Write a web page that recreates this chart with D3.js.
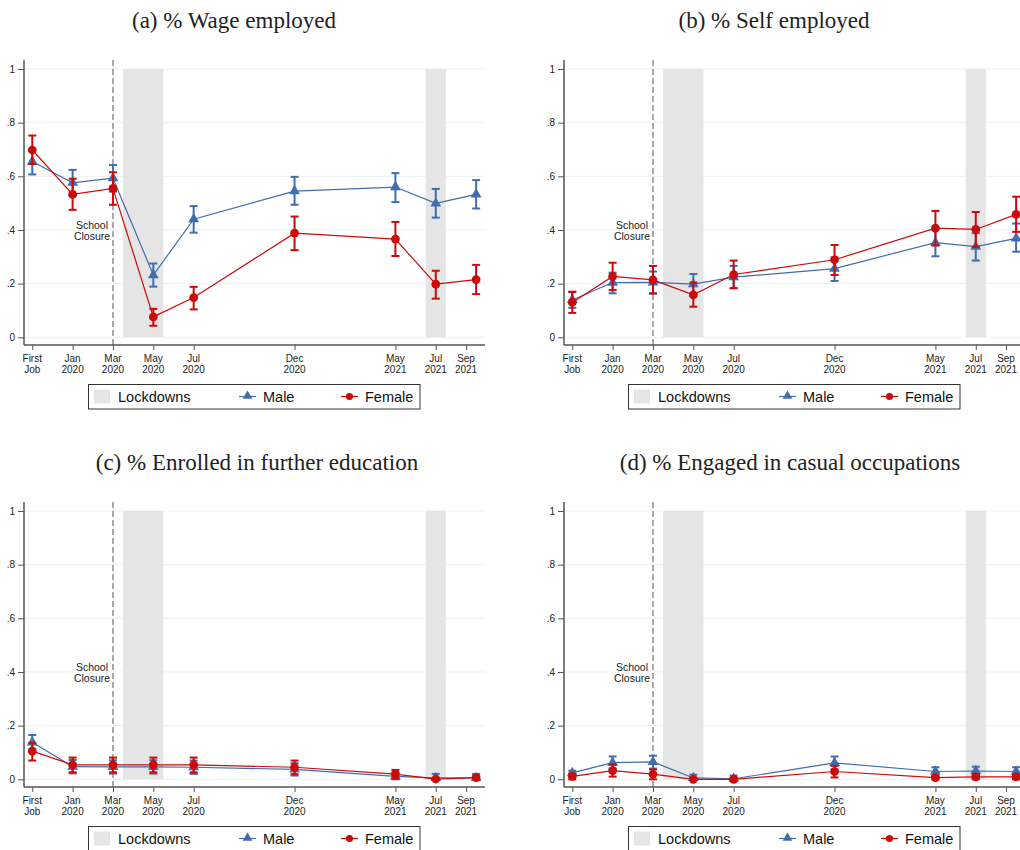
<!DOCTYPE html>
<html>
<head>
<meta charset="utf-8">
<script src="https://cdn.jsdelivr.net/npm/d3@7"></script>
<style>
  body { margin: 0; background: #fff; }
  svg { display: block; }
</style>
</head>
<body>
<div id="chart"></div>
<script>
// Periodos (en meses desde enero 2020) y etiquetas del eje X
var periodMonths = [-2, 0, 2, 4, 6, 11, 16, 18, 20];
var tickMonths = [-2, 0, 2, 4, 6, 11, 16, 18, 19.5];
var tickLabels = [["First", "Job"], ["Jan", "2020"], ["Mar", "2020"], ["May", "2020"], ["Jul", "2020"],
                  ["Dec", "2020"], ["May", "2021"], ["Jul", "2021"], ["Sep", "2021"]];
var yTicks = [0, 0.2, 0.4, 0.6, 0.8, 1];
var yTickLabels = ["0", ".2", ".4", ".6", ".8", "1"];

// Periodos de confinamiento y cierre de escuelas
var lockdownStart = [2.5, 17.5];
var lockdownEnd = [4.5, 18.5];
var schoolClosure = 2;

var panelTitles = ["(a) % Wage employed", "(b) % Self employed",
                   "(c) % Enrolled in further education", "(d) % Engaged in casual occupations"];

// (a) Wage employed
var wageMale = [0.655, 0.576, 0.593, 0.232, 0.44, 0.545, 0.56, 0.499, 0.533];
var wageMaleLo = [0.607, 0.528, 0.543, 0.189, 0.39, 0.494, 0.504, 0.446, 0.48];
var wageMaleHi = [0.702, 0.624, 0.642, 0.275, 0.489, 0.598, 0.612, 0.553, 0.586];
var wageFemale = [0.698, 0.533, 0.555, 0.076, 0.148, 0.388, 0.366, 0.198, 0.215];
var wageFemaleLo = [0.646, 0.475, 0.494, 0.043, 0.104, 0.325, 0.303, 0.144, 0.161];
var wageFemaleHi = [0.752, 0.591, 0.615, 0.106, 0.188, 0.45, 0.43, 0.248, 0.27];

// (b) Self employed
var selfMale = [0.139, 0.204, 0.205, 0.198, 0.224, 0.256, 0.353, 0.338, 0.369];
var selfMaleLo = [0.11, 0.164, 0.164, 0.16, 0.183, 0.21, 0.302, 0.286, 0.319];
var selfMaleHi = [0.168, 0.241, 0.245, 0.236, 0.266, 0.298, 0.4, 0.388, 0.424];
var selfFemale = [0.13, 0.227, 0.214, 0.158, 0.234, 0.289, 0.407, 0.402, 0.458];
var selfFemaleLo = [0.091, 0.176, 0.163, 0.114, 0.183, 0.232, 0.342, 0.337, 0.393];
var selfFemaleHi = [0.17, 0.278, 0.266, 0.204, 0.286, 0.344, 0.471, 0.467, 0.524];

// (c) Enrolled in further education
var eduMale = [0.138, 0.047, 0.046, 0.046, 0.045, 0.037, 0.011, 0.005, 0.005];
var eduMaleLo = [0.112, 0.022, 0.021, 0.021, 0.02, 0.014, 0.0, 0.0, 0.0];
var eduMaleHi = [0.165, 0.072, 0.071, 0.071, 0.07, 0.06, 0.025, 0.02, 0.02];
var eduFemale = [0.105, 0.054, 0.054, 0.054, 0.054, 0.045, 0.019, 0.001, 0.006];
var eduFemaleLo = [0.07, 0.026, 0.026, 0.026, 0.026, 0.019, 0.002, 0.0, 0.0];
var eduFemaleHi = [0.136, 0.081, 0.081, 0.081, 0.081, 0.07, 0.035, 0.004, 0.012];

// (d) Engaged in casual occupations
var casualMale = [0.024, 0.062, 0.065, 0.005, 0.002, 0.061, 0.029, 0.031, 0.029];
var casualMaleLo = [0.014, 0.04, 0.04, 0.0, 0.0, 0.037, 0.011, 0.014, 0.011];
var casualMaleHi = [0.032, 0.085, 0.088, 0.017, 0.014, 0.085, 0.045, 0.047, 0.045];
var casualFemale = [0.011, 0.032, 0.019, 0.0, 0.0, 0.029, 0.006, 0.009, 0.009];
var casualFemaleLo = [0.0, 0.01, 0.0, 0.0, 0.0, 0.007, 0.0, 0.0, 0.0];
var casualFemaleHi = [0.021, 0.055, 0.037, 0.004, 0.004, 0.05, 0.014, 0.018, 0.018];

var width = 1020;
var height = 850;
var blue = "#3f6db0";
var red = "#cc0a0a";
var axisColor = "#555555";

var svg = d3.select("#chart")
    .append("svg")
    .attr("width", width)
    .attr("height", height);

var sans = "'Liberation Sans', Arial, sans-serif";

function series(values, lo, hi) {
    return values.map(function (v, i) {
        return { m: periodMonths[i], v: v, lo: lo[i], hi: hi[i] };
    });
}

function drawPanel(k, dx, dy, titleX, male, female) {
    var g = svg.append("g").attr("transform", "translate(" + dx + "," + dy + ")");

    var x = d3.scaleLinear().domain([-2.41, 20.44]).range([24, 485]);
    var y = d3.scaleLinear().domain([0, 1]).range([337.3, 69]);
    var axisY = 345;

    // Titulo
    svg.append("text")
        .attr("x", titleX)
        .attr("y", dy + 28)
        .attr("text-anchor", "middle")
        .style("font-family", "'Liberation Serif', 'Times New Roman', serif")
        .style("font-size", "23px")
        .attr("fill", "#222")
        .text(panelTitles[k]);

    // Lineas de grilla
    g.selectAll(".grid")
        .data(yTicks)
        .enter()
        .append("line")
        .attr("x1", 24).attr("x2", 485)
        .attr("y1", function (d) { return y(d); })
        .attr("y2", function (d) { return y(d); })
        .attr("stroke", "#eaf2f3")
        .attr("stroke-width", 1);

    // Confinamientos
    g.selectAll(".lock")
        .data(lockdownStart)
        .enter()
        .append("rect")
        .attr("x", function (d) { return x(d); })
        .attr("y", y(1))
        .attr("width", function (d, i) { return x(lockdownEnd[i]) - x(d); })
        .attr("height", y(0) - y(1))
        .attr("fill", "#e5e5e5");

    // Cierre de escuelas
    g.append("line")
        .attr("x1", x(schoolClosure)).attr("x2", x(schoolClosure))
        .attr("y1", 60).attr("y2", axisY)
        .attr("stroke", axisColor)
        .attr("stroke-width", 1)
        .attr("stroke-dasharray", "6,3");

    var note = g.append("text")
        .attr("text-anchor", "middle")
        .style("font-family", sans)
        .style("font-size", "10.5px")
        .attr("fill", "#222");
    note.append("tspan").attr("x", 92).attr("y", 229).text("School");
    note.append("tspan").attr("x", 92).attr("y", 239.5).text("Closure");

    // Ejes
    var yAxis = g.append("g")
        .attr("transform", "translate(24,0)")
        .call(d3.axisLeft(y).tickValues(yTicks).tickSize(6).tickPadding(3)
            .tickFormat(function (d, i) { return yTickLabels[i]; }));
    yAxis.select(".domain").remove();
    g.append("line")
        .attr("x1", 24).attr("x2", 24).attr("y1", 60).attr("y2", axisY)
        .attr("stroke", axisColor).attr("stroke-width", 1.5);

    var xAxis = g.append("g")
        .attr("transform", "translate(0," + axisY + ")")
        .call(d3.axisBottom(x).tickValues(tickMonths).tickSize(5).tickFormat(""));
    xAxis.select(".domain").remove();
    g.append("line")
        .attr("x1", 24).attr("x2", 485).attr("y1", axisY).attr("y2", axisY)
        .attr("stroke", axisColor).attr("stroke-width", 1.5);

    [yAxis, xAxis].forEach(function (a) {
        a.selectAll(".tick line").attr("stroke", axisColor);
        a.selectAll(".tick text")
            .style("font-family", sans)
            .style("font-size", "10px")
            .attr("fill", "#222");
    });

    var xl = g.selectAll(".xlab")
        .data(tickMonths)
        .enter()
        .append("text")
        .attr("text-anchor", "middle")
        .style("font-family", sans)
        .style("font-size", "10px")
        .attr("fill", "#222");
    xl.append("tspan")
        .attr("x", function (d) { return x(d); })
        .attr("y", axisY + 17)
        .text(function (d, i) { return tickLabels[i][0]; });
    xl.append("tspan")
        .attr("x", function (d) { return x(d); })
        .attr("y", axisY + 28)
        .text(function (d, i) { return tickLabels[i][1]; });

    // Series
    var line = d3.line()
        .x(function (d) { return x(d.m); })
        .y(function (d) { return y(d.v); });

    [[male, blue, "triangle"], [female, red, "circle"]].forEach(function (s) {
        var data = s[0], color = s[1], shape = s[2];
        g.append("path")
            .datum(data)
            .attr("d", line)
            .attr("fill", "none")
            .attr("stroke", color)
            .attr("stroke-width", 1.2);

        var eb = g.append("g").selectAll("g")
            .data(data)
            .enter()
            .append("g")
            .attr("stroke", color)
            .attr("stroke-width", 2);
        eb.append("line")
            .attr("x1", function (d) { return x(d.m); })
            .attr("x2", function (d) { return x(d.m); })
            .attr("y1", function (d) { return y(d.lo); })
            .attr("y2", function (d) { return y(d.hi); });
        eb.append("line")
            .attr("x1", function (d) { return x(d.m) - 4; })
            .attr("x2", function (d) { return x(d.m) + 4; })
            .attr("y1", function (d) { return y(d.lo); })
            .attr("y2", function (d) { return y(d.lo); });
        eb.append("line")
            .attr("x1", function (d) { return x(d.m) - 4; })
            .attr("x2", function (d) { return x(d.m) + 4; })
            .attr("y1", function (d) { return y(d.hi); })
            .attr("y2", function (d) { return y(d.hi); });

        var sym = d3.symbol()
            .type(shape === "triangle" ? d3.symbolTriangle : d3.symbolCircle)
            .size(shape === "triangle" ? 50 : 60);
        g.selectAll(".m" + shape)
            .data(data)
            .enter()
            .append("path")
            .attr("d", sym)
            .attr("transform", function (d) { return "translate(" + x(d.m) + "," + y(d.v) + ")"; })
            .attr("fill", color);
    });

    // Leyenda
    var lg = g.append("g");
    lg.append("rect")
        .attr("x", 88.5).attr("y", 384.5).attr("width", 331.5).attr("height", 24.5)
        .attr("fill", "#fff").attr("stroke", "#333").attr("stroke-width", 1);
    lg.append("rect")
        .attr("x", 94).attr("y", 389.5).attr("width", 16).attr("height", 14)
        .attr("fill", "#e5e5e5");
    lg.append("text").attr("x", 118).attr("y", 401.5).text("Lockdowns");
    lg.append("line").attr("x1", 239).attr("x2", 256).attr("y1", 396.5).attr("y2", 396.5)
        .attr("stroke", blue).attr("stroke-width", 1.2);
    lg.append("path").attr("d", d3.symbol().type(d3.symbolTriangle).size(40))
        .attr("transform", "translate(247.5,396)").attr("fill", blue);
    lg.append("text").attr("x", 263).attr("y", 401.5).text("Male");
    lg.append("line").attr("x1", 341).attr("x2", 358).attr("y1", 396.5).attr("y2", 396.5)
        .attr("stroke", red).attr("stroke-width", 1.2);
    lg.append("path").attr("d", d3.symbol().type(d3.symbolCircle).size(40))
        .attr("transform", "translate(349.5,396.5)").attr("fill", red);
    lg.append("text").attr("x", 365).attr("y", 401.5).text("Female");
    lg.selectAll("text")
        .style("font-family", sans)
        .style("font-size", "14.5px")
        .attr("fill", "#111");
}

drawPanel(0, 0, 0, 234, series(wageMale, wageMaleLo, wageMaleHi), series(wageFemale, wageFemaleLo, wageFemaleHi));
drawPanel(1, 540, 0, 774, series(selfMale, selfMaleLo, selfMaleHi), series(selfFemale, selfFemaleLo, selfFemaleHi));
drawPanel(2, 0, 442, 257, series(eduMale, eduMaleLo, eduMaleHi), series(eduFemale, eduFemaleLo, eduFemaleHi));
drawPanel(3, 540, 442, 790, series(casualMale, casualMaleLo, casualMaleHi), series(casualFemale, casualFemaleLo, casualFemaleHi));
</script>
</body>
</html>
